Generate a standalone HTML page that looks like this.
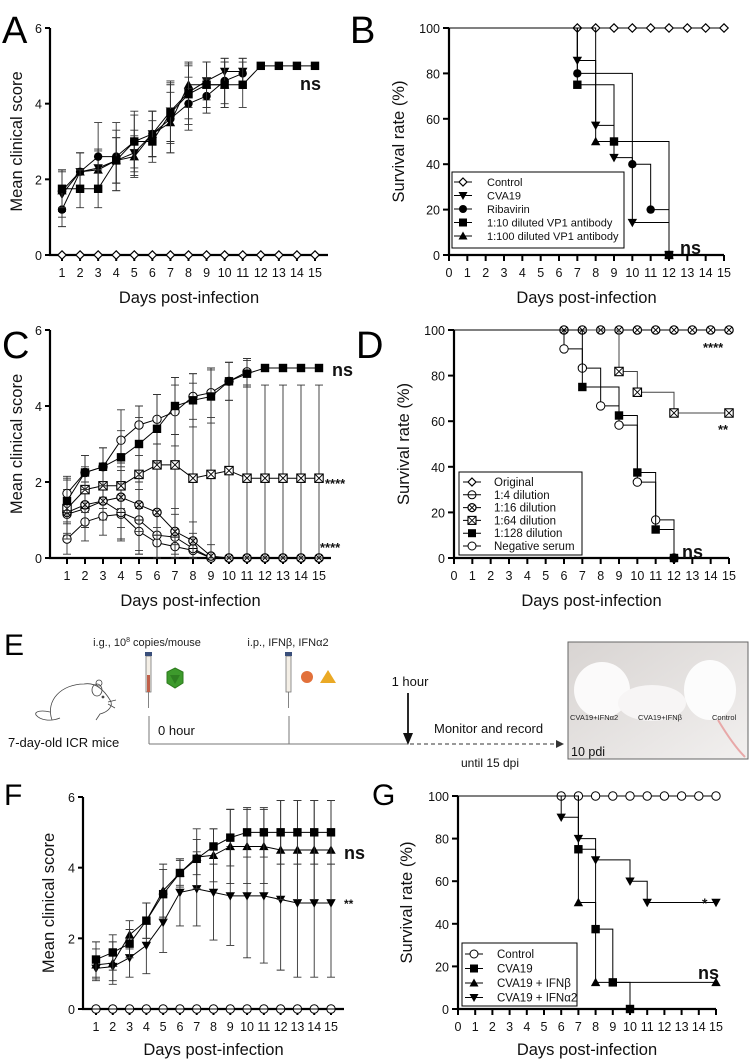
<!DOCTYPE html>
<html><head><meta charset="utf-8">
<style>
html,body{margin:0;padding:0;background:#fff;}
svg{display:block;font-family:"Liberation Sans",Arial,sans-serif;}
</style></head>
<body>
<svg id="fig" width="750" height="1061" viewBox="0 0 750 1061" xmlns="http://www.w3.org/2000/svg">
  <text x="2" y="43" font-size="38">A</text>
  <text x="350" y="43" font-size="38">B</text>
  <text x="2" y="358" font-size="38">C</text>
  <text x="356" y="358" font-size="38">D</text>
  <text x="4" y="655" font-size="30">E</text>
  <text x="4" y="805" font-size="30">F</text>
  <text x="372" y="805" font-size="30">G</text>

  <g>
    <text x="147" y="646" font-size="11" text-anchor="middle" fill="#222">i.g., 10<tspan font-size="7" dy="-4">8</tspan><tspan dy="4"> copies/mouse</tspan></text>
    <text x="288" y="646" font-size="11" text-anchor="middle" fill="#222">i.p., IFNβ, IFNα2</text>
    <g>
      <rect x="146" y="656" width="5" height="36" fill="#f4efe6" stroke="#777" stroke-width="0.8"/>
      <rect x="147" y="675" width="3" height="17" fill="#c0604a"/>
      <rect x="145" y="652" width="7" height="4" fill="#3a4f7a"/>
      <line x1="148.5" y1="692" x2="148.5" y2="708" stroke="#666" stroke-width="0.8"/>
    </g>
    <polygon points="175,668 183,672 183,683 175,688 167,683 167,672" fill="#3d9a2c" stroke="#2c7a1c"/>
    <polygon points="170,675 180,675 175,684" fill="#2e7f21"/>
    <g>
      <rect x="286" y="656" width="5" height="36" fill="#f4efe6" stroke="#777" stroke-width="0.8"/>
      <rect x="285" y="652" width="7" height="4" fill="#3a4f7a"/>
      <line x1="288.5" y1="692" x2="288.5" y2="708" stroke="#666" stroke-width="0.8"/>
    </g>
    <circle cx="307" cy="677" r="6" fill="#e2703a"/>
    <polygon points="328,670 336,683 320,683" fill="#eaa925"/>
    <g fill="none" stroke="#444" stroke-width="0.8">
      <path d="M52,720 C45,700 62,684 84,684 C96,682 104,690 110,700 C114,706 108,712 100,714 L96,720 M60,718 C50,722 40,720 36,715 C34,711 42,710 50,712"/>
      <ellipse cx="97" cy="690" rx="5" ry="6"/>
      <circle cx="99" cy="683" r="3"/>
      <line x1="108" y1="702" x2="116" y2="700"/><line x1="108" y1="704" x2="115" y2="708"/>
      <circle cx="103" cy="697" r="1" fill="#444"/>
    </g>
    <text x="8" y="747" font-size="13" fill="#111">7-day-old ICR  mice</text>
    <line x1="149" y1="716" x2="149" y2="744" stroke="#555" stroke-width="0.8"/>
    <line x1="289" y1="716" x2="289" y2="744" stroke="#555" stroke-width="0.8"/>
    <line x1="149" y1="744" x2="408" y2="744" stroke="#777" stroke-width="1"/>
    <text x="158" y="735" font-size="13" fill="#111">0 hour</text>
    <text x="410" y="686" font-size="13" text-anchor="middle" fill="#111">1 hour</text>
    <line x1="408" y1="693" x2="408" y2="736" stroke="#111" stroke-width="1.8"/>
    <polygon points="403,733 413,733 408,745" fill="#111"/>
    <line x1="410" y1="744" x2="556" y2="744" stroke="#333" stroke-width="0.9" stroke-dasharray="4,3"/>
    <polygon points="556,740 564,744 556,748" fill="#333"/>
    <text x="434" y="733" font-size="13" fill="#111">Monitor and record</text>
    <text x="490" y="767" font-size="12" text-anchor="middle" fill="#111">until 15 dpi</text>
    <g>
      <defs><linearGradient id="pg" x1="0" y1="0" x2="1" y2="1"><stop offset="0" stop-color="#d8d4d2"/><stop offset="1" stop-color="#f2f0ef"/></linearGradient></defs>
      <rect x="568" y="642" width="180" height="117" fill="url(#pg)" stroke="#666" stroke-width="1"/>
      <ellipse cx="602" cy="690" rx="28" ry="28" fill="#fbfafa"/>
      <ellipse cx="652" cy="703" rx="34" ry="18" fill="#f7f5f5"/>
      <ellipse cx="710" cy="690" rx="26" ry="30" fill="#fcfcfc"/>
      <path d="M718,720 C730,740 738,750 745,757" stroke="#e8a8a8" stroke-width="2" fill="none"/>
      <text x="570" y="720" font-size="7.5" fill="#222">CVA19+IFNα2</text>
      <text x="638" y="720" font-size="7.5" fill="#222">CVA19+IFNβ</text>
      <text x="712" y="720" font-size="7.5" fill="#222">Control</text>
      <text x="571" y="756" font-size="12.5" fill="#111">10 pdi</text>
    </g>
  </g>
  <g id="charts"></g>
</svg>
<script>
const daysA = [1,2,3,4,5,6,7,8,9,10,11,12,13,14,15];
const aControl = [0,0,0,0,0,0,0,0,0,0,0,0,0,0,0];
const aCVA19 = [1.6,2.2,2.3,2.5,2.7,3.2,3.8,4.3,4.6,4.85,4.85];
const aCVA19Err = [0.6,0.5,0.5,0.6,0.6,0.6,0.8,0.7,0.5,0.35,0.35];
const aRiba = [1.2,2.2,2.6,2.6,3.0,3.2,3.6,4.0,4.2,4.6,4.8];
const aRibaErr = [0.45,0.5,0.9,0.9,0.8,0.6,0.9,0.7,0.45,0.6,0.4];
const aVP10 = [1.75,1.75,1.75,2.5,3.0,3.0,3.75,4.25,4.5,4.5,4.5,5,5,5,5];
const aVP10Err = [0.5,0.5,0.5,0.8,0.7,0.55,0.8,0.8,0.6,0.6,0.6,0,0,0,0];
const aVP100 = [1.7,2.2,2.25,2.5,2.6,3.2,3.5,4.5,4.5,4.5];
const aVP100Err = [0.55,0.5,0.5,0.6,0.55,0.6,0.8,0.6,0.6,0.6];

const cOriginal = [0.5,0.95,1.1,1.15,0.7,0.4,0.3,0.2,0,0,0,0,0,0,0];
const cOriginalErr = [0.4,0.5,0.5,0.7,0.6,0.4,0.3,0.2,0,0,0,0,0,0,0];
const c4 = [1.15,1.3,1.5,1.2,1.0,0.6,0.55,0.25,0,0,0,0,0,0,0];
const c4Err = [0.5,0.5,0.5,0.7,0.8,0.6,0.6,0.4,0,0,0,0,0,0,0];
const c16 = [1.2,1.4,1.5,1.6,1.4,1.2,0.7,0.45,0.05,0,0,0,0,0,0];
const c16Err = [0.6,0.6,0.5,0.8,1.3,1.2,0.6,0.5,0.3,0,0,0,0,0,0];
const c64 = [1.3,1.8,1.9,1.9,2.2,2.45,2.45,2.1,2.2,2.3,2.1,2.1,2.1,2.1,2.1];
const c64Err = [0.8,0.6,0.6,0.6,1.5,1.85,2.1,2.5,2.8,2.85,2.45,2.45,2.45,2.45,2.45];
const c128 = [1.5,2.25,2.4,2.65,3.0,3.4,4.0,4.15,4.25,4.65,4.85,5,5,5,5];
const c128Err = [0.55,0.45,0.5,0.7,1.0,0.9,0.75,0.7,0.7,0.5,0.35,0,0,0,0];
const cNeg = [1.7,2.25,2.4,3.1,3.5,3.65,3.85,4.25,4.35,4.65,4.9];
const cNegErr = [0.45,0.45,0.5,0.8,0.5,0.65,0.9,0.6,0.65,0.5,0.35];

const fControl = [0,0,0,0,0,0,0,0,0,0,0,0,0,0,0];
const fCVA19 = [1.4,1.6,1.85,2.5,3.25,3.85,4.25,4.6,4.85,5,5,5,5,5,5];
const fCVA19Err = [0.5,0.5,0.4,0.5,0.7,0.35,0.85,0.5,0.8,0.7,0.7,0.9,0.9,0.9,0.9];
const fIFNb = [1.25,1.3,2.1,2.5,3.35,3.85,4.3,4.35,4.6,4.6,4.6,4.5,4.5,4.5,4.5];
const fIFNbErr = [0.45,0.6,0.4,0.5,0.75,0.4,0.5,0.75,1.05,1.05,1.05,1.4,1.4,1.4,1.4];
const fIFNa = [1.15,1.2,1.45,1.8,2.45,3.3,3.4,3.3,3.2,3.2,3.2,3.1,3.0,3.0,3.0];
const fIFNaErr = [0.3,0.4,0.55,0.8,0.85,0.95,1.05,1.35,1.4,1.75,1.9,2.0,2.1,2.1,2.1];

const bControlT = [7,8,9,10,11,12,13,14,15]; const bControlV = [100,100,100,100,100,100,100,100,100];
const bCVA19T = [7,8,9,10,12]; const bCVA19V = [85.7,57.1,42.9,14.3,0];
const bRibaT = [7,10,11,12]; const bRibaV = [80,40,20,0];
const bVP10T = [7,9,12]; const bVP10V = [75,50,0];
const bVP100T = [8,12]; const bVP100V = [50,0];

const dTopT = [6,7,8,9,10,11,12,13,14,15]; const dTopV = [100,100,100,100,100,100,100,100,100,100];
const d64T = [9,10,12,15]; const d64V = [81.8,72.7,63.6,63.6];
const d128T = [7,9,10,11,12]; const d128V = [75,62.5,37.5,12.5,0];
const dNegT = [6,7,8,9,10,11,12]; const dNegV = [91.7,83.3,66.7,58.3,33.3,16.7,0];

const gControlT = [6,7,8,9,10,11,12,13,14,15]; const gControlV = [100,100,100,100,100,100,100,100,100,100];
const gCVA19T = [7,8,9,10]; const gCVA19V = [75,37.5,12.5,0];
const gIFNbT = [7,8,15]; const gIFNbV = [50,12.5,12.5];
const gIFNaT = [6,7,8,10,11,15]; const gIFNaV = [90,80,70,60,50,50];

const scoreTicks = [0,2,4,6];
const survTicks = [0,20,40,60,80,100];
const survDays = [0,1,2,3,4,5,6,7,8,9,10,11,12,13,14,15];

const NS = "http://www.w3.org/2000/svg";
const root = document.getElementById('charts');
function el(tag, attrs, parent) {
  const e = document.createElementNS(NS, tag);
  for (const k in attrs) e.setAttribute(k, attrs[k]);
  (parent || root).appendChild(e);
  return e;
}
function txt(s, x, y, size, anchor, parent, weight) {
  const t = el('text', {x:x, y:y, 'font-size':size, 'text-anchor':anchor||'start', fill:'#111'}, parent);
  if (weight) t.setAttribute('font-weight', weight);
  t.textContent = s;
  return t;
}
function marker(type, x, y, g, s) {
  s = s || 4.2;
  const k = '#000';
  let m;
  if (type === 'sq') m = el('rect', {x:x-s, y:y-s, width:2*s, height:2*s, fill:k}, g);
  else if (type === 'circ') m = el('circle', {cx:x, cy:y, r:s, fill:k}, g);
  else if (type === 'tri') m = el('polygon', {points:`${x},${y-s-0.5} ${x+s+0.5},${y+s-0.5} ${x-s-0.5},${y+s-0.5}`, fill:k}, g);
  else if (type === 'dtri') m = el('polygon', {points:`${x},${y+s+0.5} ${x+s+0.5},${y-s+0.5} ${x-s-0.5},${y-s+0.5}`, fill:k}, g);
  else if (type === 'diam') m = el('polygon', {points:`${x},${y-s} ${x+s},${y} ${x},${y+s} ${x-s},${y}`, fill:'#fff', stroke:k, 'stroke-width':1.2}, g);
  else if (type === 'ocirc') m = el('circle', {cx:x, cy:y, r:s, fill:'#fff', stroke:k, 'stroke-width':1}, g);
  else if (type === 'oline') { m = el('circle', {cx:x, cy:y, r:s, fill:'#fff', stroke:k, 'stroke-width':1}, g); el('line',{x1:x-s,y1:y,x2:x+s,y2:y,stroke:k,'stroke-width':1},g); }
  else if (type === 'ocross') { m = el('circle', {cx:x, cy:y, r:s, fill:'#fff', stroke:k, 'stroke-width':1.2}, g); el('path',{d:`M${x-s*0.7},${y-s*0.7}L${x+s*0.7},${y+s*0.7}M${x+s*0.7},${y-s*0.7}L${x-s*0.7},${y+s*0.7}`,stroke:k,'stroke-width':1},g); }
  else if (type === 'boxx') { m = el('rect', {x:x-s, y:y-s, width:2*s, height:2*s, fill:'#fff', stroke:k, 'stroke-width':1.1}, g); el('path',{d:`M${x-s},${y-s}L${x+s},${y+s}M${x+s},${y-s}L${x-s},${y+s}`,stroke:k,'stroke-width':0.9},g); }
  return m;
}
function yTitle(s, x, y, g) {
  const t = el('text', {x:0, y:0, 'font-size':16.5, 'text-anchor':'middle', fill:'#111', transform:`translate(${x},${y}) rotate(-90)`}, g);
  t.textContent = s;
  return t;
}

function lineChart(c) {
  const g = el('g', {});
  
  
  const xs = d => c.x1 + (d - 1) * (c.x15 - c.x1) / 14;
  const ys = v => c.y0 - v * (c.y0 - c.y6) / 6;
  const ax = el('path', {d:`M${c.ax},${c.y6}V${c.y0}H${c.axEnd}`, fill:'none', stroke:'#000', 'stroke-width':2.2}, g);
  
  scoreTicks.forEach(v => {
    el('line', {x1:c.ax-5, y1:ys(v), x2:c.ax, y2:ys(v), stroke:'#000', 'stroke-width':2}, g);
    const t = txt(String(v), c.ax-8, ys(v)+5, 12.5, 'end', g);
    
  });
  daysA.forEach(d => {
    el('line', {x1:xs(d), y1:c.y0, x2:xs(d), y2:c.y0+6, stroke:'#000', 'stroke-width':2}, g);
    const t = txt(String(d), xs(d), c.y0+22, 12.5, 'middle', g);
    
  });
  const xt = txt('Days post-infection', (c.ax+c.axEnd)/2, c.titleY, 16.5, 'middle', g);
  
  const yt = yTitle('Mean clinical score', c.ylabX, (c.y0+c.y6)/2, g);
  
  c.series.forEach(s => {
    const sg = el('g', {}, g);
    
    
    if (s.err) s.vals.forEach((v, i) => {
      const e = s.err[i]; if (!e) return;
      const x = xs(daysA[i]);
      const lo = Math.max(0, v - e), hi = v + e;
      el('path', {d:`M${x},${ys(lo)}V${ys(hi)}M${x-4},${ys(hi)}H${x+4}M${x-4},${ys(lo)}H${x+4}`, stroke:'#333', 'stroke-width':0.9, fill:'none'}, sg);
    });
    const pts = s.vals.map((v, i) => `${xs(daysA[i])},${ys(v)}`).join(' ');
    el('polyline', {points:pts, fill:'none', stroke:'#000', 'stroke-width':1}, sg);
    s.vals.forEach((v, i) => {
      const m = marker(s.m, xs(daysA[i]), ys(v), sg, s.size);
      
    });
  });
  c.stats.forEach(st => {
    const t = txt(st[0], st[1], st[2], st[3], 'start', g, 'bold');
    
  });
}

function survChart(c) {
  const g = el('g', {});
  
  
  const xs = d => c.x0 + d * (c.x15 - c.x0) / 15;
  const ys = v => c.y0 - v * (c.y0 - c.y100) / 100;
  const ax = el('path', {d:`M${c.x0},${c.y100}V${c.y0}H${c.x15}`, fill:'none', stroke:'#000', 'stroke-width':2.2}, g);
  
  survTicks.forEach(v => {
    el('line', {x1:c.x0-6, y1:ys(v), x2:c.x0, y2:ys(v), stroke:'#000', 'stroke-width':2}, g);
    const t = txt(String(v), c.x0-9, ys(v)+5, 12.5, 'end', g);
    
  });
  survDays.forEach(d => {
    el('line', {x1:xs(d), y1:c.y0, x2:xs(d), y2:c.y0+6, stroke:'#000', 'stroke-width':2}, g);
    const t = txt(String(d), xs(d), c.y0+22, 12.5, 'middle', g);
    
  });
  const xt = txt('Days post-infection', (c.x0+c.x15)/2, c.titleY, 16.5, 'middle', g);
  
  const yt = yTitle('Survival rate (%)', c.ylabX, (c.y0+c.y100)/2, g);
  
  c.series.forEach(s => {
    const sg = el('g', {}, g);
    
    
    let d = `M${xs(0)},${ys(100)}`;
    s.t.forEach((t, i) => { d += `H${xs(t)}V${ys(s.v[i])}`; });
    el('path', {d:d, fill:'none', stroke:s.col||'#000', 'stroke-width':1}, sg);
    s.t.forEach((t, i) => {
      const m = marker(s.m, xs(t), ys(s.v[i]), sg, s.size);
      
    });
  });
  const L = c.legend;
  const lg = el('g', {}, g);
  
  
  el('rect', {x:L.x, y:L.y, width:L.w, height:L.h, fill:'#fff', stroke:'#000', 'stroke-width':1}, lg);
  L.items.forEach((it, i) => {
    const yy = L.y + L.rowTop + i * L.rowH;
    const eg = el('g', {}, lg);
    
    
    el('line', {x1:L.sx-9, y1:yy, x2:L.sx+9, y2:yy, stroke:'#000', 'stroke-width':1}, eg);
    marker(it[1], L.sx, yy, eg, 4);
    txt(it[0], L.tx, yy+4, L.fs, 'start', eg);
  });
  c.stats.forEach(st => {
    const t = txt(st[0], st[1], st[2], st[3], 'start', g, st[4] || 'bold');
    
  });
}

lineChart({name:'panel-a-clinical-score', ax:50, axEnd:328, x1:62, x15:315, y0:255, y6:28, titleY:303, ylabX:22,
  series:[
    {name:'series-control', vals:aControl, m:'diam'},
    {name:'series-vp1-1-100', vals:aVP100, err:aVP100Err, m:'tri'},
    {name:'series-cva19', vals:aCVA19, err:aCVA19Err, m:'dtri'},
    {name:'series-ribavirin', vals:aRiba, err:aRibaErr, m:'circ'},
    {name:'series-vp1-1-10', vals:aVP10, err:aVP10Err, m:'sq'}],
  stats:[['ns', 300, 90, 18]]});

survChart({name:'panel-b-survival', x0:449, x15:724, y0:255, y100:28, titleY:303, ylabX:404,
  series:[
    {name:'series-control', t:bControlT, v:bControlV, m:'diam'},
    {name:'series-cva19', t:bCVA19T, v:bCVA19V, m:'dtri'},
    {name:'series-ribavirin', t:bRibaT, v:bRibaV, m:'circ'},
    {name:'series-vp1-1-10', t:bVP10T, v:bVP10V, m:'sq'},
    {name:'series-vp1-1-100', t:bVP100T, v:bVP100V, m:'tri'}],
  legend:{x:452, y:172, w:172, h:76, rowTop:10, rowH:13.5, sx:463, tx:487, fs:11,
    items:[['Control','diam'],['CVA19','dtri'],['Ribavirin','circ'],['1:10 diluted VP1 antibody','sq'],['1:100 diluted VP1 antibody','tri']]},
  stats:[['ns', 680, 254, 18]]});

lineChart({name:'panel-c-clinical-score', ax:50, axEnd:331, x1:67, x15:319, y0:558, y6:330, titleY:606, ylabX:22,
  series:[
    {name:'series-original', vals:cOriginal, err:cOriginalErr, m:'ocirc'},
    {name:'series-1-4', vals:c4, err:c4Err, m:'oline'},
    {name:'series-1-16', vals:c16, err:c16Err, m:'ocross'},
    {name:'series-1-64', vals:c64, err:c64Err, m:'boxx'},
    {name:'series-negative-serum', vals:cNeg, err:cNegErr, m:'ocirc'},
    {name:'series-1-128', vals:c128, err:c128Err, m:'sq'}],
  stats:[['ns', 332, 376, 18], ['****', 325, 488, 13], ['****', 320, 552, 13]]});

survChart({name:'panel-d-survival', x0:454, x15:729, y0:558, y100:330, titleY:606, ylabX:409,
  series:[
    {name:'series-top-groups', t:dTopT, v:dTopV, m:'ocross'},
    {name:'series-1-64', t:d64T, v:d64V, m:'boxx', col:'#444'},
    {name:'series-negative-serum', t:dNegT, v:dNegV, m:'ocirc'},
    {name:'series-1-128', t:d128T, v:d128V, m:'sq'}],
  legend:{x:459, y:472, w:123, h:83, rowTop:10, rowH:12.8, sx:472, tx:494, fs:11.5,
    items:[['Original','diam'],['1:4 dilution','oline'],['1:16 dilution','ocross'],['1:64 dilution','boxx'],['1:128 dilution','sq'],['Negative serum','ocirc']]},
  stats:[['****', 703, 352, 13], ['**', 718, 434, 13], ['ns', 682, 558, 18]]});

lineChart({name:'panel-f-clinical-score', ax:83, axEnd:344, x1:96, x15:331, y0:1009, y6:797, titleY:1055, ylabX:54,
  series:[
    {name:'series-control', vals:fControl, m:'oline'},
    {name:'series-ifna2', vals:fIFNa, err:fIFNaErr, m:'dtri'},
    {name:'series-ifnb', vals:fIFNb, err:fIFNbErr, m:'tri'},
    {name:'series-cva19', vals:fCVA19, err:fCVA19Err, m:'sq'}],
  stats:[['ns', 344, 859, 18], ['**', 344, 908, 12]]});

survChart({name:'panel-g-survival', x0:458, x15:716, y0:1009, y100:796, titleY:1055, ylabX:412,
  series:[
    {name:'series-control', t:gControlT, v:gControlV, m:'ocirc'},
    {name:'series-ifna2', t:gIFNaT, v:gIFNaV, m:'dtri'},
    {name:'series-ifnb', t:gIFNbT, v:gIFNbV, m:'tri'},
    {name:'series-cva19', t:gCVA19T, v:gCVA19V, m:'sq'}],
  legend:{x:462, y:943, w:115, h:63, rowTop:11, rowH:14.5, sx:474, tx:497, fs:11.5,
    items:[['Control','ocirc'],['CVA19','sq'],['CVA19 + IFNβ','tri'],['CVA19 + IFNα2','dtri']]},
  stats:[['*', 702, 908, 14], ['ns', 698, 979, 18]]});
</script>
</body></html>
